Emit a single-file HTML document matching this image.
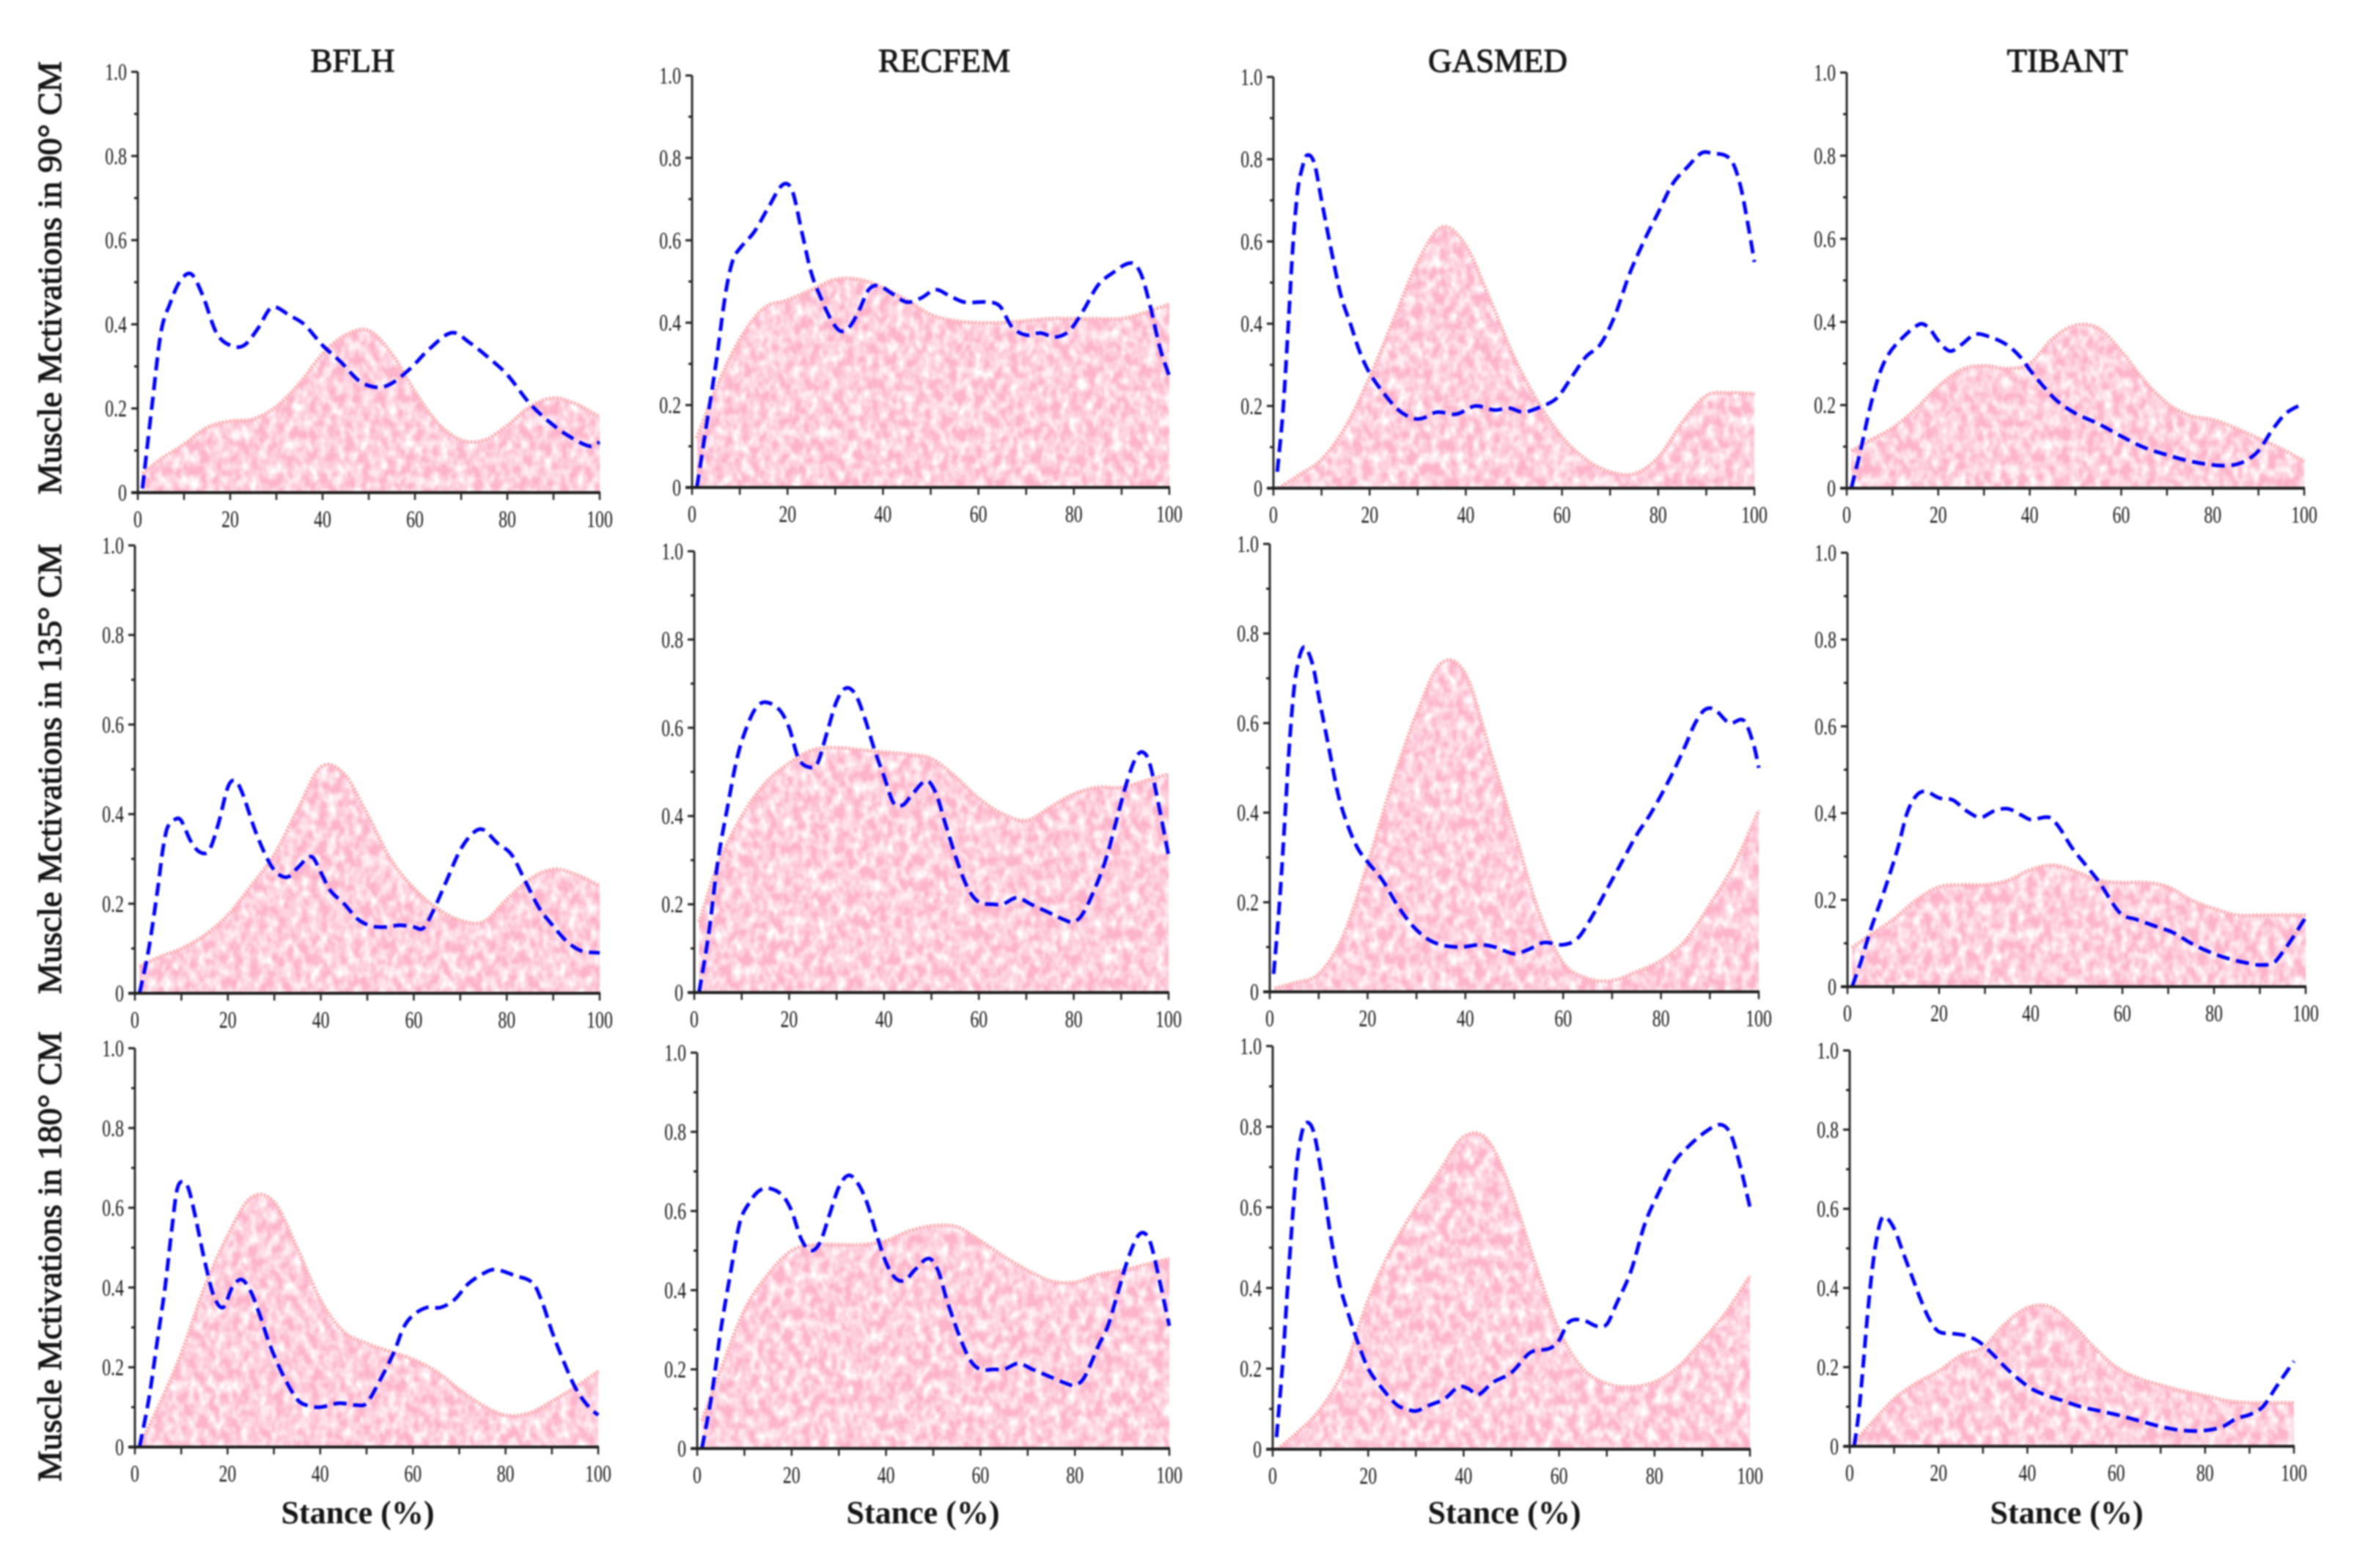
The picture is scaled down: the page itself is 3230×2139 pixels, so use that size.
<!DOCTYPE html>
<html lang="en">
<head>
<meta charset="utf-8">
<title>Muscle activations across stance</title>
<style>
html,body{margin:0;padding:0;background:#fff;width:3230px;height:2139px;overflow:hidden}
#chart{display:block;filter:blur(1.1px)}
text{font-family:"Liberation Serif",serif;fill:#161616}
</style>
</head>
<body>
<svg id="chart" xmlns="http://www.w3.org/2000/svg" width="3230" height="2139" viewBox="0 0 3230 2139">
  <defs>
    <filter id="mottle" x="0" y="0" width="1" height="1" color-interpolation-filters="sRGB">
      <feTurbulence type="fractalNoise" baseFrequency="0.085 0.06" numOctaves="2" seed="7" result="noise"/>
      <feColorMatrix in="noise" type="matrix" values="0 0 0 0 1  0 0 0 0 1  0 0 0 0 1  2.0 0 0 0 -0.62" result="spots"/>
      <feComposite in="spots" in2="SourceAlpha" operator="in"/>
    </filter>
  </defs>
  <rect width="3230" height="2139" fill="#fff"/>
  <g id="plots"></g>
</svg>
<script>
// ---- shared axis data ----
const xTickValues = [0, 20, 40, 60, 80, 100];
const xTickLabels = ["0", "20", "40", "60", "80", "100"];
const xMinorValues = [10, 30, 50, 70, 90];
const yTickValues = [0, 0.2, 0.4, 0.6, 0.8, 1.0];
const yTickLabels = ["0", "0.2", "0.4", "0.6", "0.8", "1.0"];
const yMinorValues = [0.1, 0.3, 0.5, 0.7, 0.9];

// ---- stance grid for the filled (pink) series ----
const stance = [1,5,10,15,20,25,30,35,40,45,50,55,60,65,70,75,80,85,90,95,100];

// ---- row 1: 90 deg ----
const bflh90Area = [.045,.08,.115,.155,.17,.175,.205,.26,.33,.375,.385,.33,.24,.165,.125,.125,.16,.205,.225,.21,.18];
const bflh90LineX = [1,3,5,7,9,11.5,14,17,20,23,26,29,33,36,40,44,48,52,55,59,63,68,72,76,80,85,90,94,98,100];
const bflh90LineY = [.01,.2,.38,.45,.5,.52,.47,.38,.35,.35,.39,.44,.42,.40,.35,.31,.265,.25,.26,.295,.34,.38,.355,.32,.28,.21,.16,.13,.11,.12];

const recfem90Area = [.12,.24,.36,.435,.455,.48,.505,.505,.485,.455,.42,.405,.40,.40,.405,.41,.41,.41,.41,.425,.445];
const recfem90LineX = [1,3,5,7,8.5,10,13,16,19,21,23,25,27,29,31,33,35,37,39,42,45,48,51,54,57,62,64.5,67,70,73,76,79,82,85,88,92,94,96,98,100];
const recfem90LineY = [0,.15,.30,.47,.55,.58,.62,.68,.735,.72,.62,.52,.46,.41,.38,.39,.43,.48,.49,.47,.45,.46,.48,.465,.45,.45,.44,.39,.37,.375,.365,.38,.43,.49,.52,.545,.52,.44,.34,.27];

const gasmed90Area = [0,.03,.07,.15,.27,.41,.55,.635,.59,.46,.32,.21,.125,.07,.04,.035,.075,.16,.225,.232,.23];
const gasmed90LineX = [.8,2,3,4,5,6,7,8.5,10,12,14,16,18,20,23,26,29,31,34,38,42,46,49,52,56,59,62,65,68,71,74,77,80,83,86,89,91,95,97,99,100];
const gasmed90LineY = [.04,.19,.38,.58,.72,.78,.81,.79,.70,.58,.47,.40,.33,.28,.23,.19,.17,.17,.185,.18,.2,.19,.195,.185,.2,.22,.27,.32,.35,.42,.52,.6,.67,.74,.78,.815,.815,.80,.74,.62,.55];

const tibant90Area = [.09,.115,.145,.19,.245,.285,.295,.288,.30,.36,.392,.385,.33,.26,.205,.175,.165,.145,.12,.095,.065];
const tibant90LineX = [1,3,5,7,9,12,16,18,20,22.5,25,28,31,35,38,40,43,46,50,55,60,65,70,75,80,84,87,90,93,96,100];
const tibant90LineY = [0,.09,.19,.27,.32,.36,.395,.385,.355,.33,.345,.37,.365,.345,.315,.285,.245,.21,.18,.155,.125,.098,.08,.065,.056,.055,.065,.09,.14,.18,.205];

// ---- row 2: 135 deg ----
const bflh135Area = [.06,.08,.10,.13,.175,.24,.31,.41,.505,.49,.40,.30,.235,.19,.163,.16,.21,.255,.277,.265,.24];
const bflh135LineX = [1,3,5,6,7,9,10,12,14,16,18,20,21.5,23,26,29,31,33,35,38,40,42,45,48,51,54,57,60,62,64,67,70,73,75,78,81,84,87,90,93,96,100];
const bflh135LineY = [0,.1,.24,.32,.37,.39,.385,.34,.315,.32,.38,.46,.475,.45,.36,.29,.265,.26,.28,.305,.27,.23,.2,.165,.15,.148,.152,.148,.145,.18,.25,.32,.36,.365,.335,.31,.25,.19,.15,.115,.095,.09];

const recfem135Area = [.16,.29,.40,.475,.52,.55,.555,.55,.545,.54,.53,.49,.44,.405,.39,.42,.45,.465,.465,.48,.495];
const recfem135LineX = [1,3,5,7,9,11,13,15,18,20,22,24.5,26,28,30,32,34,36,38,40,42,44,46,49,51,53,56,58,60,63,65,68,71,75,78,80,82,85,87,89,91,93,94.5,96,98,100];
const recfem135LineY = [0,.13,.3,.42,.53,.60,.645,.658,.64,.6,.53,.51,.52,.59,.66,.69,.675,.62,.55,.49,.43,.425,.45,.48,.45,.38,.28,.23,.205,.20,.2,.215,.2,.18,.165,.16,.18,.25,.31,.39,.47,.53,.545,.52,.42,.31];

const gasmed135Area = [.008,.02,.04,.125,.285,.465,.62,.733,.71,.54,.36,.18,.065,.03,.025,.045,.07,.115,.195,.285,.405];
const gasmed135LineX = [.8,2,3,4,5,6,7,8,9,10,12,14,16,18,20,23,26,29,32,35,39,43,46,50,53,56,60,63,66,69,72,75,78,82,85,87,89,91,94,97,99,100];
const gasmed135LineY = [.04,.2,.37,.55,.68,.745,.77,.755,.72,.66,.55,.44,.37,.32,.29,.25,.195,.15,.12,.105,.10,.105,.1,.085,.095,.11,.105,.12,.17,.23,.29,.35,.40,.48,.55,.6,.63,.63,.60,.605,.55,.5];

const tibant135Area = [.09,.12,.155,.2,.23,.235,.235,.245,.27,.28,.265,.245,.24,.24,.23,.2,.18,.165,.165,.165,.165];
const tibant135LineX = [1,3,5,8,11,13,15,17,20,23,26,29,32,35,38,40,44,46,49,52,55,58,60,63,67,71,75,79,83,87,90,93,95,97,100];
const tibant135LineY = [0,.06,.13,.22,.32,.40,.44,.45,.435,.43,.405,.39,.405,.41,.395,.385,.39,.37,.32,.28,.24,.19,.165,.155,.14,.125,.10,.08,.065,.055,.05,.055,.08,.11,.16];

// ---- row 3: 180 deg ----
const bflh180Area = [.005,.10,.235,.40,.53,.625,.615,.50,.37,.29,.26,.24,.22,.19,.145,.105,.08,.085,.115,.15,.19];
const bflh180LineX = [1,3,5,6.5,8,9,10,11.5,13,15,17,19,21,23,25,27,29,32,35,37,40,44,48,50,53,56,58,60,63,66,69,72,76,78,82,86,88,90,92,95,98,100];
const bflh180LineY = [0,.12,.28,.4,.55,.64,.665,.65,.58,.47,.38,.35,.4,.42,.39,.33,.26,.18,.12,.105,.10,.11,.105,.11,.17,.24,.3,.33,.35,.35,.37,.41,.44,.445,.43,.41,.36,.29,.23,.15,.10,.08];

const recfem180Area = [.07,.2,.35,.44,.5,.515,.515,.515,.525,.55,.563,.56,.525,.485,.45,.423,.42,.44,.45,.465,.48];
const recfem180LineX = [1,3,5,7,9,11,13,15,18,20,22,24,26,28,30,32,34,36,38,40,42,44,46,49,51,53,56,58,60,63,65,68,71,75,78,80,82,85,87,89,91,93,94.5,96,98,100];
const recfem180LineY = [0,.13,.3,.44,.57,.62,.65,.658,.64,.6,.53,.5,.52,.59,.66,.69,.67,.62,.54,.47,.43,.425,.45,.48,.45,.37,.27,.22,.2,.2,.2,.215,.2,.18,.165,.16,.18,.26,.31,.39,.47,.53,.545,.52,.42,.31];

const gasmed180Area = [0,.04,.10,.2,.37,.5,.6,.69,.775,.767,.64,.46,.295,.2,.163,.155,.167,.205,.27,.34,.43];
const gasmed180LineX = [.8,2,3,4,5,6,7,8.5,10,12,14,16,18,20,23,26,28,30,33,36,39,41,43,46,50,54,58,60,62,65,68,70,72,75,78,81,84,87,91,94,96,98,100];
const gasmed180LineY = [.03,.2,.38,.55,.7,.78,.81,.79,.7,.54,.41,.33,.26,.2,.15,.11,.1,.095,.11,.125,.155,.15,.135,.165,.19,.24,.25,.27,.315,.32,.305,.31,.36,.44,.56,.64,.71,.75,.79,.805,.78,.7,.6];

const tibant180Area = [.01,.06,.12,.16,.19,.23,.25,.31,.35,.353,.31,.25,.20,.172,.155,.14,.128,.115,.11,.11,.11];
const tibant180LineX = [1,2,3,4,5,6,7,8,10,12,14,16,18,20,23,26,29,32,35,38,41,44,48,52,56,60,65,70,75,80,84,87,90,93,96,100];
const tibant180LineY = [0,.08,.2,.33,.44,.52,.57,.58,.55,.49,.43,.37,.32,.29,.285,.28,.265,.235,.2,.17,.145,.13,.115,.10,.09,.08,.065,.05,.04,.04,.05,.07,.08,.10,.15,.215];

// ---- panel layout (pixel frames) and links to data ----
const panels = [
  {id:"bflh-90",    area:bflh90Area,    lx:bflh90LineX,    ly:bflh90LineY,    x0:188,  x1:818,  y0:672,  y1:98},
  {id:"recfem-90",  area:recfem90Area,  lx:recfem90LineX,  ly:recfem90LineY,  x0:944,  x1:1595, y0:665,  y1:103},
  {id:"gasmed-90",  area:gasmed90Area,  lx:gasmed90LineX,  ly:gasmed90LineY,  x0:1737, x1:2393, y0:666,  y1:105},
  {id:"tibant-90",  area:tibant90Area,  lx:tibant90LineX,  ly:tibant90LineY,  x0:2519, x1:3143, y0:666,  y1:99},
  {id:"bflh-135",   area:bflh135Area,   lx:bflh135LineX,   ly:bflh135LineY,   x0:184,  x1:818,  y0:1355, y1:744},
  {id:"recfem-135", area:recfem135Area, lx:recfem135LineX, ly:recfem135LineY, x0:947,  x1:1594, y0:1354, y1:752},
  {id:"gasmed-135", area:gasmed135Area, lx:gasmed135LineX, ly:gasmed135LineY, x0:1732, x1:2399, y0:1353, y1:742},
  {id:"tibant-135", area:tibant135Area, lx:tibant135LineX, ly:tibant135LineY, x0:2520, x1:3145, y0:1346, y1:754},
  {id:"bflh-180",   area:bflh180Area,   lx:bflh180LineX,   ly:bflh180LineY,   x0:184,  x1:816,  y0:1974, y1:1430},
  {id:"recfem-180", area:recfem180Area, lx:recfem180LineX, ly:recfem180LineY, x0:951,  x1:1595, y0:1976, y1:1436},
  {id:"gasmed-180", area:gasmed180Area, lx:gasmed180LineX, ly:gasmed180LineY, x0:1736, x1:2387, y0:1977, y1:1427},
  {id:"tibant-180", area:tibant180Area, lx:tibant180LineX, ly:tibant180LineY, x0:2523, x1:3129, y0:1973, y1:1433}
];
const columnTitles = ["BFLH", "RECFEM", "GASMED", "TIBANT"];
const columnTitleCenters = [481, 1288, 2043, 2820];
const stanceLabelCenters = [488, 1259, 2052, 2819];
const rowTitles = ["Muscle Mctivations in 90° CM", "Muscle Mctivations in 135° CM", "Muscle Mctivations in 180° CM"];
const rowTitleCenters = [379, 1049, 1714];
const rowTitleLengths = [591, 614, 614];

const NS = "http://www.w3.org/2000/svg";
const root = document.getElementById("plots");

function make(tag, parent) {
  const el = document.createElementNS(NS, tag);
  parent.appendChild(el);
  return el;
}

// smooth path through (xs,ys) with tangents computed in x (cubic Hermite)
function smoothPath(pts) {
  const n = pts.length;
  const slope = pts.map((p, i) => {
    const a = pts[Math.max(i - 1, 0)], b = pts[Math.min(i + 1, n - 1)];
    return (b[1] - a[1]) / ((b[0] - a[0]) || 1);
  });
  let d = "M" + pts[0][0].toFixed(1) + " " + pts[0][1].toFixed(1);
  for (let i = 0; i < n - 1; i++) {
    const h = (pts[i + 1][0] - pts[i][0]) / 3;
    d += "C" + (pts[i][0] + h).toFixed(1) + " " + (pts[i][1] + slope[i] * h).toFixed(1) + " "
      + (pts[i + 1][0] - h).toFixed(1) + " " + (pts[i + 1][1] - slope[i + 1] * h).toFixed(1) + " "
      + pts[i + 1][0].toFixed(1) + " " + pts[i + 1][1].toFixed(1);
  }
  return d;
}

function drawPanel(p) {
  const xScale = v => p.x0 + (p.x1 - p.x0) * v / 100;
  const yScale = v => p.y0 - (p.y0 - p.y1) * v;

  const g = make("g", root);
  
  

  // filled series
  const areaPts = stance.map((s, i) => [xScale(s), yScale(p.area[i])]);
  const top = smoothPath(areaPts);
  const closed = top + "L" + xScale(stance[stance.length - 1]).toFixed(1) + " " + p.y0 + "L" + xScale(stance[0]).toFixed(1) + " " + p.y0 + "Z";

  const area = make("path", g);
  
  
  area.setAttribute("d", closed);
  area.setAttribute("fill", "#fdb4ca");

  const spots = make("path", g);
  
  
  spots.setAttribute("d", closed);
  spots.setAttribute("fill", "#fff");
  spots.setAttribute("filter", "url(#mottle)");

  const edge = make("path", g);
  
  
  edge.setAttribute("d", top);
  edge.setAttribute("fill", "none");
  edge.setAttribute("stroke", "#fdb0b4");
  edge.setAttribute("stroke-width", "5");
  edge.setAttribute("stroke-dasharray", "3 2");

  // dashed series
  const linePts = p.lx.map((s, i) => [xScale(s), yScale(p.ly[i])]);
  const line = make("path", g);
  
  
  line.setAttribute("d", smoothPath(linePts));
  line.setAttribute("fill", "none");
  line.setAttribute("stroke", "#0000f5");
  line.setAttribute("stroke-width", "5");
  line.setAttribute("stroke-dasharray", "18 9");

  // axes
  const yAxis = make("line", g);
  
  
  yAxis.setAttribute("x1", p.x0);
  yAxis.setAttribute("x2", p.x0);
  yAxis.setAttribute("y1", p.y1);
  yAxis.setAttribute("y2", p.y0 + 2);
  yAxis.setAttribute("stroke", "#2a2a2a");
  yAxis.setAttribute("stroke-width", "3");

  const xAxis = make("line", g);
  
  
  xAxis.setAttribute("x1", p.x0 - 9);
  xAxis.setAttribute("x2", p.x1 + 1);
  xAxis.setAttribute("y1", p.y0);
  xAxis.setAttribute("y2", p.y0);
  xAxis.setAttribute("stroke", "#1c1c1c");
  xAxis.setAttribute("stroke-width", "4");

  xTickValues.concat(xMinorValues).forEach(v => {
    const t = make("line", g);
    
    
    t.setAttribute("x1", xScale(v));
    t.setAttribute("x2", xScale(v));
    t.setAttribute("y1", p.y0);
    t.setAttribute("y2", p.y0 + 10);
    t.setAttribute("stroke", "#222");
    t.setAttribute("stroke-width", "2.5");
  });

  yTickValues.forEach(v => {
    const t = make("line", g);
    
    
    t.setAttribute("x1", p.x0 - 9);
    t.setAttribute("x2", p.x0);
    t.setAttribute("y1", yScale(v));
    t.setAttribute("y2", yScale(v));
    t.setAttribute("stroke", "#222");
    t.setAttribute("stroke-width", "3");
  });

  yMinorValues.forEach(v => {
    const t = make("line", g);
    
    
    t.setAttribute("x1", p.x0 - 5);
    t.setAttribute("x2", p.x0);
    t.setAttribute("y1", yScale(v));
    t.setAttribute("y2", yScale(v));
    t.setAttribute("stroke", "#222");
    t.setAttribute("stroke-width", "3");
  });

  xTickValues.forEach((v, i) => {
    const t = make("text", g);
    
    
    t.setAttribute("transform", "translate(" + xScale(v) + "," + (p.y0 + 47) + ") scale(.72,1)");
    t.setAttribute("text-anchor", "middle");
    t.setAttribute("font-size", "33");
    t.textContent = xTickLabels[i];
  });

  yTickValues.forEach((v, i) => {
    const t = make("text", g);
    
    
    t.setAttribute("transform", "translate(" + (p.x0 - 15) + "," + (yScale(v) + 11) + ") scale(.72,1)");
    t.setAttribute("text-anchor", "end");
    t.setAttribute("font-size", "33");
    t.textContent = yTickLabels[i];
  });
}

panels.forEach(drawPanel);

columnTitles.forEach((label, i) => {
  const t = make("text", root);
  
  
  t.setAttribute("x", columnTitleCenters[i]);
  t.setAttribute("y", 98);
  t.setAttribute("text-anchor", "middle");
  t.setAttribute("font-size", "45");
  t.setAttribute("stroke", "#161616");
  t.setAttribute("stroke-width", "1");
  t.textContent = label;
});

stanceLabelCenters.forEach((cx, i) => {
  const t = make("text", root);
  
  
  t.setAttribute("x", cx);
  t.setAttribute("y", 2078);
  t.setAttribute("text-anchor", "middle");
  t.setAttribute("font-size", "44");
  t.setAttribute("font-weight", "bold");
  t.textContent = "Stance (%)";
});

rowTitles.forEach((label, i) => {
  const t = make("text", root);
  
  
  t.setAttribute("transform", "translate(83," + rowTitleCenters[i] + ") rotate(-90)");
  t.setAttribute("text-anchor", "middle");
  t.setAttribute("font-size", "46");
  t.setAttribute("textLength", rowTitleLengths[i]);
  t.setAttribute("lengthAdjust", "spacingAndGlyphs");
  t.setAttribute("stroke", "#161616");
  t.setAttribute("stroke-width", "1.2");
  t.textContent = label;
});
</script>
</body>
</html>
